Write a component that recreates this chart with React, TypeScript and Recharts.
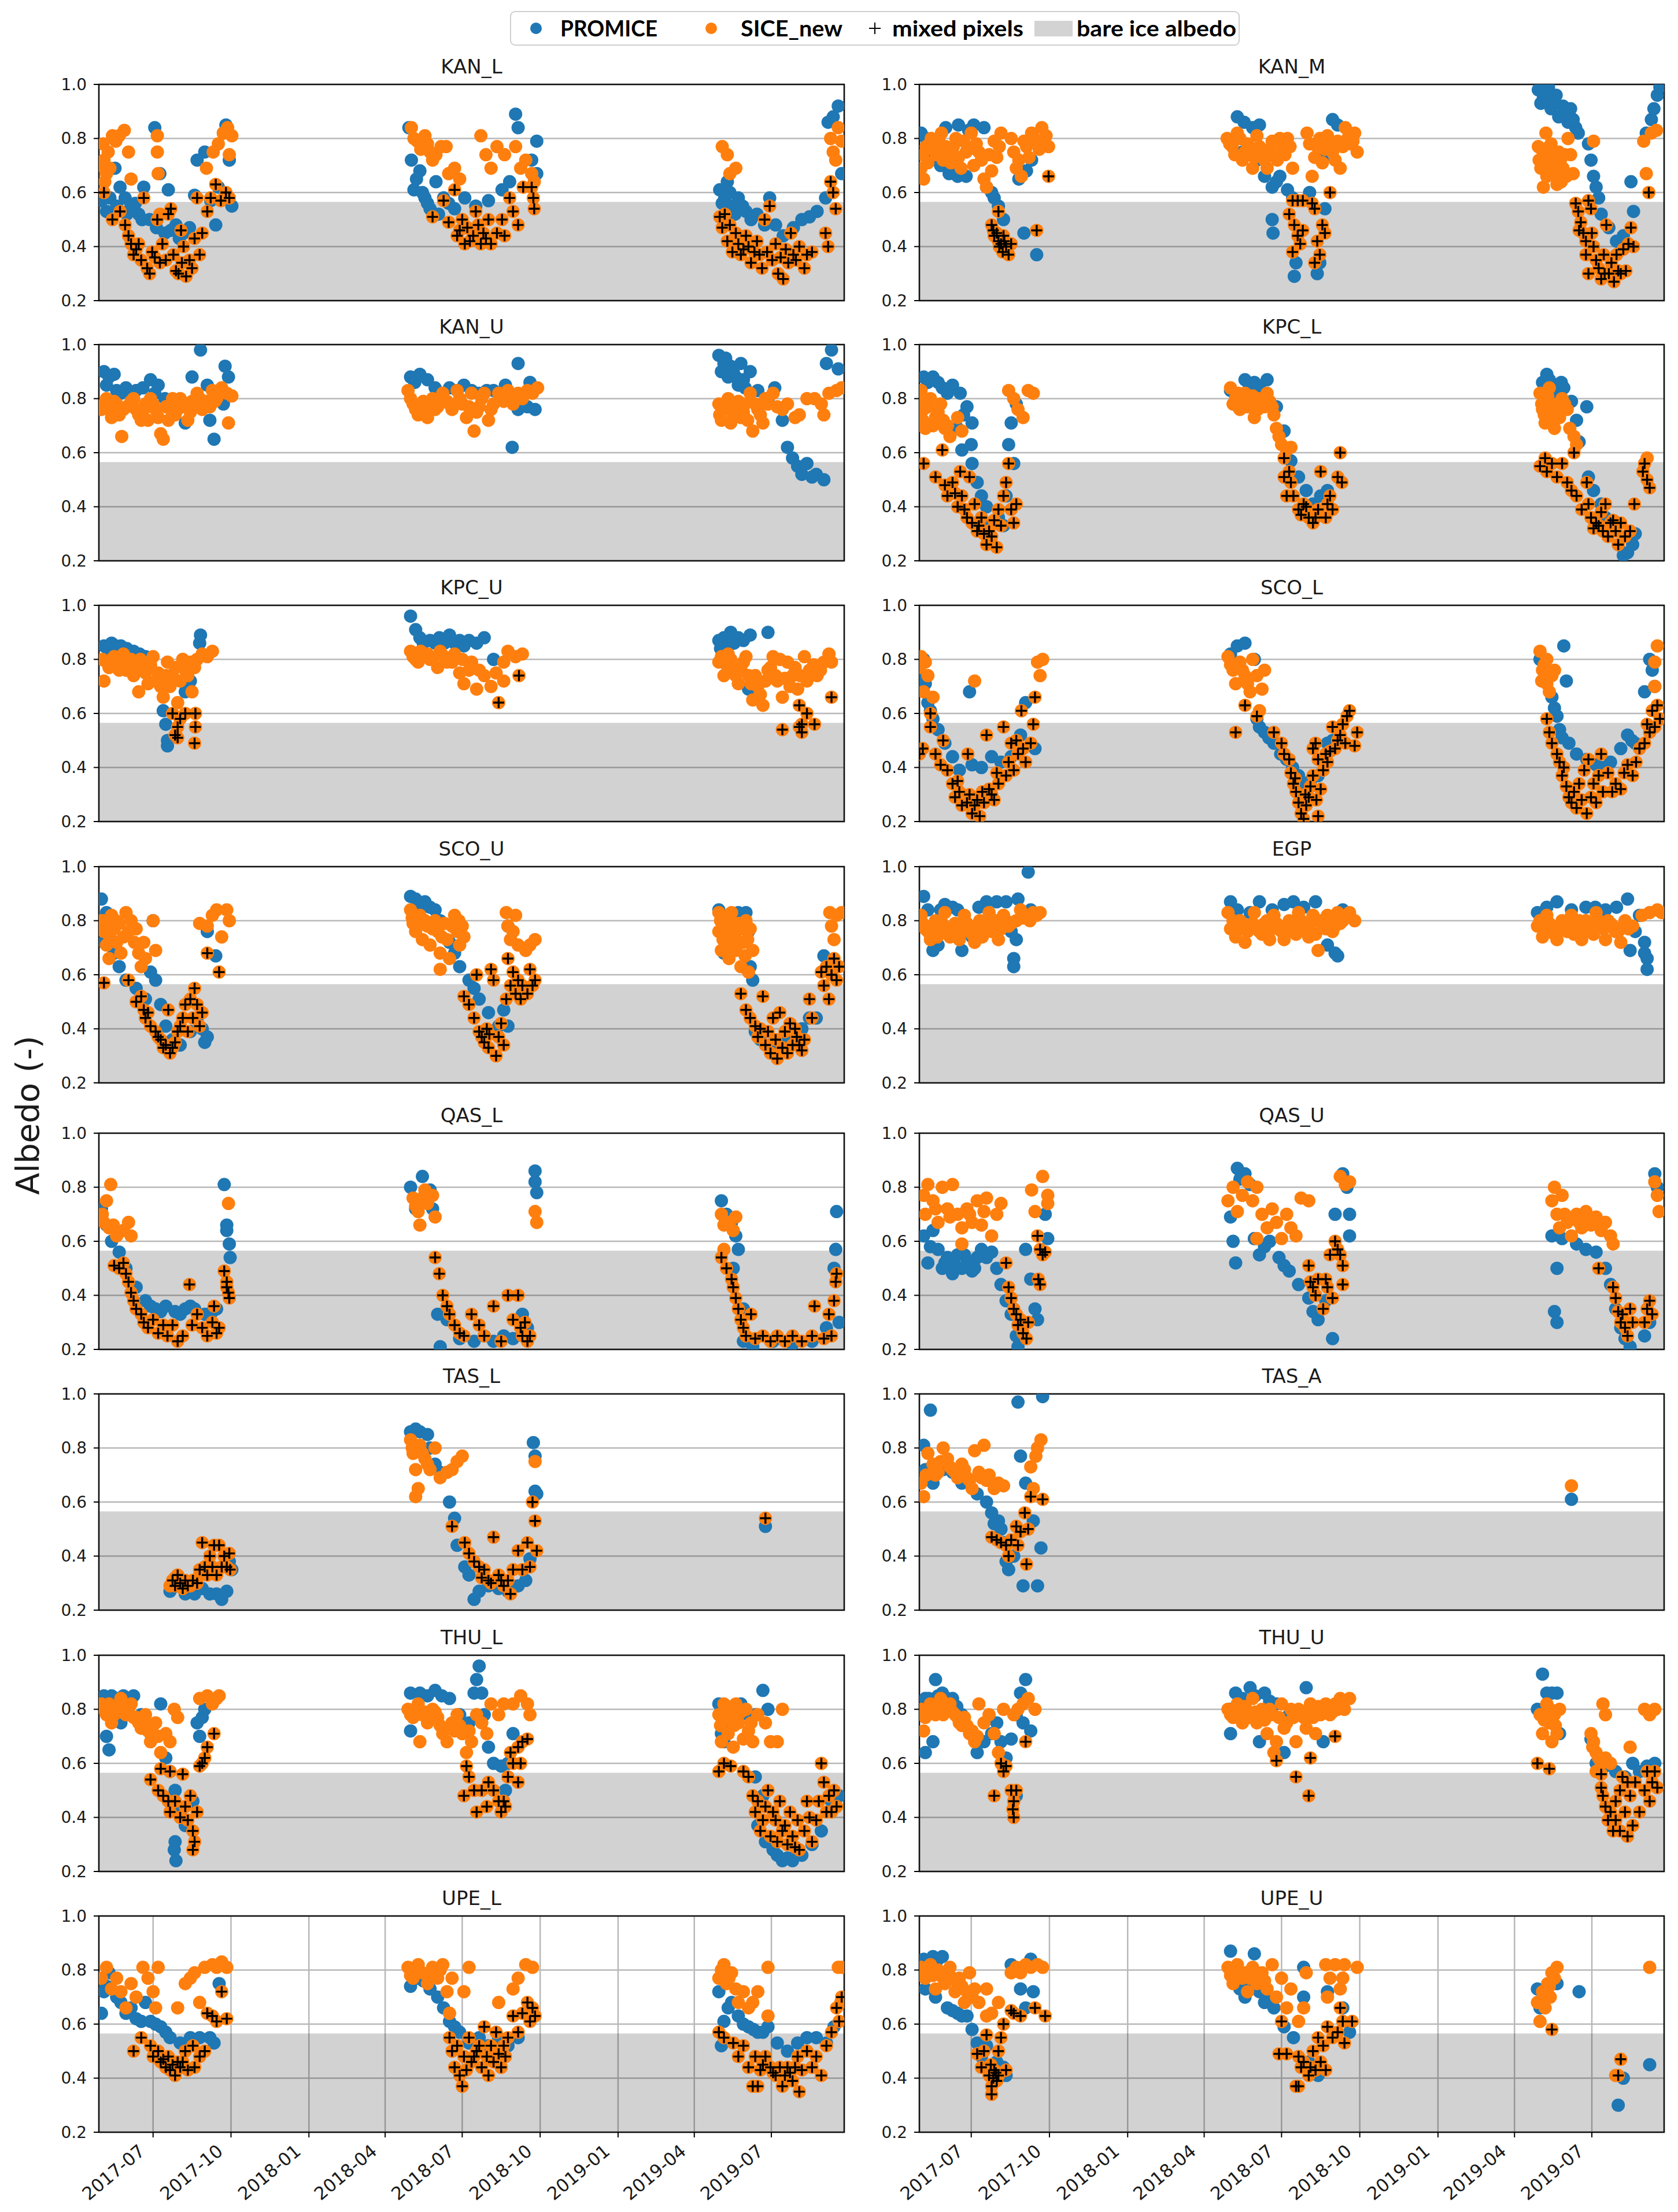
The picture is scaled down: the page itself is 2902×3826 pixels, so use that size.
import React from 'react';
import { ScatterChart, Scatter, XAxis, YAxis, CartesianGrid, ReferenceArea } from 'recharts';

type Pt = [number, number];

// x values: days since 2017-01-01
const TICK_DAYS = [181, 273, 365, 455, 546, 638, 730, 820, 911];
const TICK_LABELS = ['2017-07', '2017-10', '2018-01', '2018-04', '2018-07', '2018-10', '2019-01', '2019-04', '2019-07'];
const Y_TICKS = [0.2, 0.4, 0.6, 0.8, 1.0];
const BARE_ICE_ALBEDO = 0.565;
const LEGEND_LABELS = ['PROMICE', 'SICE_new', 'mixed pixels', 'bare ice albedo'];

const KAN_L_P: Pt[] = [[120,.57],[126,.53],[130,.58],[136,.69],[142,.62],[148,.58],[155,.55],[160,.56],[164,.52],[170,.62],[177,.50],[183,.84],[185,.47],[189,.67],[195,.45],[199,.61],[208,.48],[212,.43],[217,.45],[224,.47],[230,.59],[233,.72],[242,.75],[249,.57],[255,.48],[258,.62],[264,.82],[267,.85],[271,.72],[274,.55],[138,.55],[150,.52],[168,.50],[202,.46],
[483,.84],[486,.72],[489,.61],[496,.68],[502,.58],[508,.54],[515,.64],[524,.58],[537,.54],[549,.58],[562,.55],[577,.57],[593,.61],[602,.64],[609,.89],[612,.84],[628,.72],[634,.79],[634,.67],[492,.65],[499,.60],[505,.56],[518,.52],[530,.56],
[850,.61],[856,.58],[859,.64],[865,.55],[872,.58],[881,.53],[887,.50],[894,.52],[903,.48],[909,.58],[916,.48],[925,.44],[937,.47],[947,.50],[956,.51],[965,.53],[975,.58],[978,.86],[984,.88],[990,.92],[994,.67],[853,.56],[862,.60],[868,.52],[877,.55]];
const KAN_L_S: Pt[] = [[122,.78],[123,.72],[126,.67],[130,.69],[133,.81],[141,.81],[147,.83],[152,.75],[155,.65],[186,.81],[186,.75],[187,.67],[189,.52],[244,.69],[252,.75],[258,.78],[264,.82],[269,.84],[271,.74],[274,.81],[120,.70],[124,.64],[128,.75],[137,.79],
[486,.84],[493,.79],[502,.81],[508,.75],[515,.74],[521,.77],[527,.77],[530,.67],[537,.69],[543,.65],[568,.81],[574,.74],[580,.69],[587,.77],[596,.74],[609,.77],[615,.69],[621,.72],[628,.67],[631,.64],[489,.80],[497,.76],[505,.78],[511,.72],
[853,.77],[859,.74],[862,.67],[869,.69],[981,.80],[984,.75],[987,.72],[990,.84],[994,.79]];
const KAN_L_M: Pt[] = [[123,.60],[133,.50],[142,.53],[148,.48],[152,.44],[155,.41],[158,.37],[164,.41],[167,.35],[170,.58],[174,.32],[177,.30],[180,.38],[186,.50],[189,.34],[192,.41],[196,.35],[199,.52],[202,.54],[205,.37],[208,.31],[211,.30],[214,.46],[217,.40],[220,.29],[224,.35],[227,.32],[230,.43],[233,.58],[236,.37],[239,.45],[245,.53],[249,.58],[255,.63],[261,.57],[267,.60],[271,.58],[161,.39],[183,.36],[215,.34],
[511,.51],[524,.57],[537,.61],[530,.49],[540,.44],[546,.50],[549,.41],[552,.47],[559,.44],[562,.53],[568,.41],[571,.45],[577,.50],[580,.41],[587,.45],[593,.50],[596,.44],[602,.58],[606,.53],[612,.48],[618,.62],[628,.62],[630,.58],[631,.54],[543,.46],[555,.42],[565,.48],[574,.43],
[850,.51],[853,.47],[856,.52],[859,.42],[862,.48],[865,.38],[869,.45],[872,.41],[875,.37],[881,.44],[884,.40],[887,.34],[894,.42],[897,.37],[900,.32],[903,.50],[906,.38],[909,.55],[912,.35],[916,.41],[919,.30],[922,.36],[925,.28],[928,.39],[931,.34],[934,.45],[937,.37],[944,.40],[950,.32],[953,.37],[959,.38],[975,.45],[978,.40],[981,.64],[984,.60],[987,.54],[878,.39],[891,.38],[940,.35]];

const KAN_M_P: Pt[] = [[122,.82],[134,.73],[140,.72],[145,.70],[146,.75],[155,.67],[157,.69],[165,.66],[166,.85],[175,.66],[184,.85],[196,.84],[199,.62],[205,.60],[208,.58],[213,.55],[219,.50],[237,.65],[243,.45],[246,.68],[252,.72],[258,.37],[128,.80],[151,.84],[178,.83],
[494,.88],[500,.75],[502,.86],[512,.84],[520,.85],[526,.66],[535,.62],[535,.50],[536,.45],[544,.66],[553,.61],[559,.58],[561,.29],[563,.34],[579,.60],[588,.30],[591,.34],[594,.72],[597,.54],[606,.87],[612,.85],[508,.74],[517,.72],[540,.64],
[848,.98],[854,.95],[860,.99],[863,.91],[869,.96],[872,.88],[877,.92],[883,.86],[886,.91],[892,.84],[895,.82],[907,.78],[910,.72],[913,.66],[916,.62],[919,.58],[922,.52],[931,.47],[940,.42],[948,.44],[957,.64],[960,.53],[975,.82],[981,.87],[984,.91],[988,.96],[991,.99],[851,.93],[857,.97],[866,.93],[880,.89],[889,.87]];
const KAN_M_S: Pt[] = [[122,.69],[125,.65],[128,.77],[134,.80],[140,.74],[146,.82],[151,.77],[157,.71],[163,.80],[169,.69],[175,.75],[181,.82],[187,.78],[193,.72],[196,.65],[199,.62],[205,.68],[211,.73],[216,.82],[228,.80],[234,.69],[240,.66],[246,.77],[252,.82],[258,.79],[264,.84],[269,.81],[272,.77],
[124,.74],[130,.71],[132,.78],[137,.76],[143,.79],[148,.72],[154,.74],[160,.77],[166,.73],[172,.79],[178,.76],[184,.70],[190,.75],[202,.74],[208,.79],[214,.77],[231,.75],[237,.72],[243,.79],[249,.73],[255,.80],[261,.76],[267,.79],
[482,.80],[488,.77],[494,.82],[500,.72],[506,.78],[512,.69],[517,.81],[523,.75],[529,.69],[535,.79],[541,.72],[547,.77],[553,.80],[559,.69],[576,.82],[582,.66],[588,.77],[594,.71],[600,.81],[606,.75],[612,.79],[615,.69],[621,.84],[627,.78],[632,.82],[635,.75],
[485,.78],[491,.74],[497,.80],[503,.75],[509,.76],[514,.73],[520,.77],[526,.72],[532,.76],[538,.74],[544,.80],[550,.74],[556,.77],[579,.78],[585,.73],[591,.80],[597,.76],[603,.78],[609,.72],[618,.77],[624,.80],[630,.79],
[848,.77],[851,.69],[854,.62],[857,.82],[860,.72],[863,.78],[866,.67],[872,.75],[875,.64],[877,.69],[883,.80],[886,.74],[889,.67],[913,.79],[972,.79],[975,.67],[981,.82],[987,.83],
[849,.72],[852,.76],[855,.70],[858,.66],[861,.77],[864,.73],[868,.70],[870,.63],[874,.72],[879,.74],[881,.66]];
const KAN_M_M: Pt[] = [[205,.48],[208,.44],[211,.45],[213,.53],[213,.42],[216,.41],[218,.38],[219,.44],[222,.40],[225,.37],[228,.41],[258,.46],[272,.66],[207,.46],[214,.40],[220,.42],
[559,.57],[565,.57],[571,.57],[582,.56],[555,.52],[561,.48],[565,.44],[559,.38],[568,.41],[571,.46],[585,.54],[588,.42],[591,.37],[585,.34],[594,.48],[597,.45],[603,.60],
[892,.56],[895,.53],[898,.49],[901,.45],[904,.42],[907,.57],[910,.54],[904,.37],[907,.30],[913,.40],[916,.35],[919,.32],[922,.28],[925,.37],[928,.48],[931,.30],[934,.34],[937,.27],[940,.37],[942,.31],[948,.39],[951,.31],[954,.41],[957,.47],[960,.40],[978,.60],[896,.46],[911,.45],[926,.30],[945,.30]];

const KAN_U_P: Pt[] = [[123,.90],[129,.88],[135,.89],[138,.83],[149,.84],[161,.83],[169,.84],[178,.87],[187,.85],[195,.80],[207,.76],[219,.71],[227,.88],[237,.98],[245,.85],[248,.72],[253,.65],[262,.83],[264,.78],[266,.92],[270,.88],[126,.85],[143,.82],[155,.82],[183,.82],
[485,.88],[490,.86],[496,.89],[505,.87],[514,.84],[531,.84],[548,.85],[566,.82],[583,.83],[597,.85],[605,.62],[612,.93],[612,.76],[623,.77],[626,.86],[632,.76],[522,.82],[540,.83],[557,.83],[575,.83],
[849,.96],[855,.93],[857,.95],[860,.88],[866,.90],[872,.85],[875,.93],[880,.84],[886,.90],[895,.83],[907,.80],[915,.84],[924,.72],[930,.62],[936,.58],[942,.55],[947,.52],[953,.56],[959,.51],[964,.52],[973,.50],[976,.93],[982,.98],[990,.91],[852,.90],[863,.92],[869,.88],[878,.87]];
const KAN_U_S: Pt[] = [[120,.76],[126,.80],[132,.73],[138,.78],[144,.66],[146,.76],[155,.79],[161,.76],[167,.72],[172,.78],[178,.80],[184,.76],[190,.67],[193,.65],[199,.72],[204,.80],[210,.76],[216,.78],[222,.72],[227,.79],[233,.82],[239,.76],[245,.79],[251,.83],[256,.80],[262,.84],[268,.82],[270,.71],[274,.81],
[123,.78],[129,.76],[135,.79],[141,.74],[150,.77],[158,.80],[164,.74],[170,.76],[175,.72],[181,.78],[187,.73],[196,.77],[202,.76],[207,.74],[213,.80],[219,.77],[225,.75],[230,.79],[236,.80],[242,.78],[248,.77],[254,.79],[259,.82],
[482,.83],[488,.78],[494,.74],[500,.79],[505,.73],[511,.80],[517,.77],[523,.82],[528,.79],[534,.76],[540,.83],[546,.78],[551,.73],[557,.82],[560,.68],[566,.77],[572,.82],[577,.72],[583,.78],[589,.82],[595,.79],[600,.83],[606,.78],[612,.82],[617,.80],[623,.83],[629,.82],[635,.84],
[485,.80],[491,.76],[497,.78],[502,.75],[508,.78],[514,.76],[520,.79],[531,.78],[543,.80],[554,.77],[563,.75],[569,.80],[580,.76],[592,.80],[603,.81],
[849,.78],[852,.72],[855,.76],[860,.80],[863,.71],[869,.77],[875,.73],[880,.78],[886,.82],[889,.68],[895,.76],[901,.71],[907,.78],[913,.82],[918,.77],[924,.76],[930,.78],[939,.73],[944,.74],[953,.80],[962,.80],[970,.78],[973,.74],[979,.82],[988,.83],[994,.84],
[850,.74],[857,.78],[866,.74],[872,.79],[878,.75],[883,.72],[892,.78],[898,.74],[904,.80]];
const KAN_U_M: Pt[] = [];

const KPC_L_P: Pt[] = [[125,.88],[136,.88],[147,.84],[159,.85],[165,.69],[168,.82],[170,.61],[176,.77],[181,.63],[182,.71],[182,.56],[188,.49],[193,.44],[199,.40],[205,.34],[213,.36],[219,.33],[222,.44],[225,.63],[228,.71],[231,.56],[234,.78],[130,.86],[142,.86],[153,.82],[172,.74],
[486,.83],[495,.77],[503,.87],[514,.86],[529,.87],[540,.77],[549,.68],[557,.57],[566,.51],[575,.46],[583,.41],[592,.44],[600,.46],[508,.85],[520,.84],
[853,.86],[858,.89],[864,.85],[870,.82],[878,.84],[887,.79],[893,.72],[896,.64],[905,.77],[907,.51],[913,.46],[922,.41],[927,.36],[936,.31],[942,.26],[948,.22],[953,.23],[959,.26],[962,.30],[861,.87],[867,.83],[875,.86]];
const KPC_L_S: Pt[] = [[122,.83],[125,.76],[127,.69],[133,.80],[139,.73],[145,.78],[150,.69],[156,.66],[165,.73],[170,.68],[225,.83],[231,.80],[236,.76],[242,.73],[248,.83],[254,.82],[120,.79],[124,.72],[130,.77],[136,.70],[142,.75],[148,.72],[153,.70],
[486,.84],[492,.80],[497,.76],[503,.82],[509,.78],[514,.73],[520,.80],[526,.77],[532,.79],[537,.74],[540,.69],[543,.66],[546,.63],[552,.61],[557,.62],[489,.78],[495,.82],[500,.79],[506,.77],[512,.81],[518,.76],[523,.78],[529,.82],[535,.77],
[850,.82],[853,.76],[856,.71],[858,.79],[861,.84],[864,.76],[867,.69],[870,.78],[873,.73],[876,.80],[882,.76],[885,.69],[890,.66],[893,.63],[976,.58],[852,.78],[855,.74],[859,.81],[862,.77],[866,.73],[871,.75],[879,.78]];
const KPC_L_M: Pt[] = [[125,.56],[139,.51],[147,.61],[150,.48],[153,.44],[159,.49],[165,.40],[168,.53],[170,.44],[176,.36],[179,.51],[182,.34],[185,.41],[188,.31],[193,.36],[196,.30],[199,.26],[205,.29],[211,.25],[213,.39],[216,.33],[219,.44],[222,.49],[225,.56],[228,.39],[231,.34],[234,.41],[162,.45],[173,.39],[190,.33],[202,.31],[208,.35],
[549,.58],[549,.51],[552,.44],[555,.53],[557,.49],[560,.44],[566,.39],[572,.41],[578,.36],[583,.34],[589,.39],[592,.53],[598,.36],[600,.41],[603,.44],[606,.39],[612,.51],[615,.60],[617,.49],[569,.37],[575,.40],[586,.36],
[850,.55],[856,.58],[858,.53],[864,.56],[870,.51],[876,.56],[882,.49],[887,.46],[890,.60],[893,.44],[899,.39],[905,.49],[907,.41],[910,.36],[916,.34],[922,.38],[924,.31],[927,.41],[930,.29],[933,.34],[939,.31],[942,.26],[945,.34],[950,.29],[956,.31],[961,.41],[971,.53],[973,.56],[976,.50],[979,.47],[913,.32],[919,.33],[936,.35]];

const KPC_U_P: Pt[] = [[123,.85],[132,.86],[143,.85],[158,.83],[172,.81],[190,.74],[193,.61],[196,.56],[198,.48],[198,.50],[219,.68],[225,.72],[230,.79],[236,.86],[237,.89],[127,.84],[137,.85],[150,.84],[165,.82],
[485,.96],[491,.91],[496,.88],[508,.87],[519,.88],[531,.89],[543,.87],[554,.87],[572,.88],[583,.80],[500,.86],[514,.86],[525,.86],[537,.86],[548,.85],[563,.86],
[849,.87],[855,.88],[855,.80],[863,.90],[872,.88],[884,.69],[886,.89],[907,.90],[851,.84],[860,.85],[867,.86],[878,.87]];
const KPC_U_S: Pt[] = [[123,.72],[126,.79],[135,.81],[141,.76],[146,.82],[152,.79],[158,.74],[164,.68],[169,.77],[175,.71],[181,.81],[187,.75],[193,.66],[198,.79],[204,.74],[210,.64],[216,.80],[222,.74],[227,.68],[233,.80],[239,.82],[245,.81],[251,.83],
[121,.80],[129,.77],[132,.80],[138,.79],[144,.78],[149,.76],[155,.80],[161,.77],[166,.80],[172,.75],[178,.78],[184,.72],[190,.70],[196,.74],[201,.70],[207,.77],[213,.72],[219,.76],[225,.79],[230,.77],
[485,.83],[494,.79],[502,.82],[508,.80],[517,.77],[525,.81],[534,.79],[543,.75],[548,.71],[554,.76],[563,.69],[572,.74],[580,.70],[586,.75],[595,.79],[595,.72],[600,.83],[609,.81],[617,.82],
[488,.81],[491,.80],[497,.83],[505,.82],[511,.80],[520,.83],[528,.79],[537,.82],[546,.80],[557,.79],[566,.76],
[849,.79],[855,.74],[860,.82],[866,.76],[872,.71],[878,.79],[884,.74],[889,.65],[895,.70],[901,.63],[907,.76],[913,.81],[918,.72],[924,.66],[930,.79],[936,.74],[942,.69],[950,.81],[956,.76],[965,.74],[973,.79],[979,.82],[982,.79],
[852,.81],[858,.78],[863,.80],[869,.74],[875,.77],[881,.81],[887,.71],[892,.74],[898,.67],[904,.72],[910,.77],[916,.74],[921,.80],[927,.73],[933,.70],[939,.77],[945,.74],[953,.72],[961,.78],[969,.76]];
const KPC_U_M: Pt[] = [[204,.60],[207,.52],[210,.55],[210,.51],[213,.58],[219,.60],[231,.60],[231,.55],[230,.49],
[589,.64],[613,.74],
[924,.54],[944,.63],[944,.55],[947,.53],[947,.56],[953,.60],[962,.56],[982,.66]];

const SCO_L_P: Pt[] = [[125,.80],[127,.71],[130,.64],[136,.58],[142,.54],[150,.49],[159,.44],[167,.39],[179,.68],[182,.41],[205,.44],[216,.42],[228,.44],[239,.52],[245,.64],[256,.47],[122,.74],[133,.61],[193,.40],
[486,.82],[494,.85],[503,.86],[514,.80],[520,.55],[526,.53],[537,.49],[552,.43],[566,.37],[572,.33],[589,.37],[600,.49],[606,.50],[517,.58],[531,.51],[545,.45],[559,.40],[580,.35],
[850,.80],[856,.74],[864,.66],[870,.59],[873,.54],[878,.85],[881,.72],[884,.49],[893,.45],[905,.43],[916,.41],[933,.42],[945,.47],[953,.52],[962,.49],[973,.68],[979,.80],[982,.76],[985,.70],[867,.62],[876,.51],[925,.40],[958,.50]];
const SCO_L_S: Pt[] = [[122,.81],[127,.79],[130,.74],[125,.68],[136,.66],[185,.72],[259,.79],[265,.80],[262,.74],[120,.77],
[483,.81],[489,.76],[492,.71],[497,.79],[503,.74],[509,.68],[512,.80],[517,.74],[523,.69],[526,.76],[520,.61],[486,.78],[500,.76],[506,.71],
[850,.83],[853,.76],[858,.80],[858,.71],[861,.68],[864,.74],[867,.76],[985,.79],[988,.85],[985,.70],[855,.78],[852,.72]];
const SCO_L_M: Pt[] = [[120,.45],[124,.47],[133,.60],[133,.55],[139,.45],[145,.41],[148,.50],[153,.39],[159,.34],[162,.29],[167,.31],[170,.26],[176,.27],[177,.45],[182,.23],[188,.28],[191,.22],[196,.27],[199,.52],[202,.32],[208,.28],[213,.34],[219,.55],[222,.37],[228,.49],[231,.39],[234,.50],[236,.45],[240,.61],[245,.42],[251,.49],[254,.56],[256,.66],[165,.35],[179,.30],[185,.26],[194,.31],[205,.30],[211,.38],[225,.42],[242,.47],
[492,.53],[503,.63],[517,.59],[537,.53],[546,.49],[549,.45],[555,.43],[557,.38],[560,.34],[563,.31],[566,.27],[569,.23],[572,.21],[575,.26],[578,.29],[580,.33],[583,.37],[583,.47],[586,.49],[589,.43],[589,.22],[592,.32],[595,.39],[598,.45],[600,.42],[606,.55],[609,.47],[615,.52],[618,.56],[621,.49],[623,.59],[626,.61],[632,.48],[635,.53],[562,.36],[574,.30],[587,.28],[603,.46],[612,.50],
[858,.58],[861,.53],[864,.49],[870,.45],[873,.42],[876,.37],[881,.33],[884,.29],[887,.27],[890,.31],[893,.25],[896,.34],[899,.28],[902,.39],[905,.23],[907,.43],[910,.29],[913,.34],[916,.27],[919,.37],[922,.45],[924,.31],[930,.38],[939,.34],[945,.32],[953,.41],[959,.37],[967,.47],[973,.49],[976,.56],[979,.53],[982,.61],[985,.55],[988,.63],[991,.58],[878,.40],[935,.31],[949,.38],[963,.42]];

const SCO_U_P: Pt[] = [[120,.88],[123,.72],[126,.83],[129,.76],[135,.68],[141,.63],[149,.58],[161,.55],[172,.51],[178,.61],[181,.80],[184,.58],[190,.49],[196,.41],[204,.36],[213,.34],[225,.39],[233,.44],[239,.40],[242,.35],[245,.37],[245,.76],[255,.67],
[485,.89],[491,.88],[502,.87],[508,.85],[514,.84],[531,.72],[543,.63],[554,.58],[566,.51],[577,.46],[589,.41],[595,.47],[600,.41],[600,.78],[496,.86],[520,.80],[537,.68],[560,.55],
[849,.84],[852,.76],[855,.68],[866,.82],[881,.83],[884,.76],[886,.63],[889,.58],[892,.39],[898,.36],[910,.34],[930,.36],[947,.40],[956,.44],[964,.44],[973,.67],[982,.63],[860,.81],[872,.83]];
const SCO_U_S: Pt[] = [[120,.80],[123,.76],[126,.71],[129,.66],[132,.82],[135,.77],[138,.72],[141,.79],[143,.68],[149,.83],[152,.76],[155,.80],[159,.72],[161,.77],[164,.68],[167,.63],[170,.72],[172,.66],[181,.80],[184,.69],[236,.79],[245,.78],[251,.82],[256,.84],[262,.74],[268,.84],[271,.80],[124,.80],[130,.74],[137,.80],[146,.74],
[485,.84],[488,.79],[491,.76],[496,.82],[499,.73],[505,.78],[508,.71],[514,.80],[517,.76],[520,.68],[520,.62],[525,.79],[528,.73],[531,.66],[537,.82],[540,.76],[543,.71],[546,.78],[598,.83],[600,.78],[603,.73],[606,.76],[609,.82],[612,.71],[621,.69],[626,.71],[632,.73],
[487,.81],[493,.78],[502,.80],[511,.77],[522,.74],[534,.78],[542,.80],[548,.74],
[849,.83],[849,.76],[852,.69],[855,.80],[858,.73],[861,.66],[864,.83],[866,.76],[869,.69],[872,.79],[875,.63],[878,.72],[881,.80],[884,.61],[886,.77],[889,.69],[980,.83],[982,.78],[985,.73],[988,.82],[994,.83],
[851,.80],[854,.73],[857,.77],[860,.70],[863,.79],[868,.74],[871,.71],[877,.77],[880,.67],[883,.73]];
const SCO_U_M: Pt[] = [[123,.57],[152,.58],[161,.50],[167,.52],[170,.47],[172,.44],[175,.46],[178,.41],[184,.39],[190,.36],[196,.34],[199,.47],[201,.31],[207,.35],[210,.39],[216,.44],[219,.49],[222,.39],[225,.51],[228,.44],[230,.55],[233,.49],[236,.41],[239,.46],[245,.68],[259,.61],[187,.37],[193,.33],[204,.33],[213,.41],
[548,.52],[554,.49],[560,.44],[563,.60],[566,.39],[572,.35],[575,.40],[577,.33],[580,.62],[583,.58],[586,.30],[589,.37],[592,.42],[595,.34],[598,.51],[600,.66],[603,.56],[606,.61],[609,.53],[612,.58],[615,.51],[617,.56],[623,.53],[626,.62],[629,.56],[632,.58],[569,.37],[578,.38],
[875,.53],[881,.47],[886,.44],[892,.41],[895,.37],[901,.52],[904,.34],[907,.39],[910,.31],[913,.44],[916,.36],[918,.29],[921,.46],[924,.33],[927,.39],[930,.31],[933,.42],[936,.34],[939,.40],[944,.34],[950,.36],[956,.51],[959,.44],[970,.61],[973,.56],[976,.63],[979,.51],[982,.60],[985,.66],[988,.58],[991,.63],[898,.40],[941,.37],[947,.32]];

const EGP_P: Pt[] = [[125,.89],[130,.84],[136,.69],[142,.71],[150,.86],[159,.85],[170,.69],[182,.74],[199,.87],[211,.87],[222,.87],[228,.76],[231,.66],[231,.63],[234,.73],[236,.88],[248,.98],[251,.84],[145,.84],[165,.84],[190,.85],
[486,.87],[494,.84],[509,.83],[520,.87],[535,.84],[549,.86],[560,.87],[572,.85],[586,.87],[600,.71],[603,.77],[609,.68],[612,.67],[618,.84],
[847,.83],[858,.85],[870,.87],[887,.84],[904,.85],[927,.84],[953,.88],[956,.69],[962,.76],[967,.82],[973,.72],[973,.68],[976,.66],[976,.62],[915,.85],[940,.85]];
const EGP_S: Pt[] = [[122,.82],[127,.77],[133,.73],[139,.80],[144,.76],[150,.83],[156,.74],[162,.79],[167,.73],[173,.82],[179,.77],[185,.72],[191,.80],[196,.76],[202,.83],[208,.78],[213,.73],[219,.82],[225,.78],[234,.80],[239,.84],[245,.82],[254,.83],[262,.83],
[124,.79],[130,.76],[136,.78],[141,.74],[147,.79],[153,.77],[159,.75],[164,.78],[170,.76],[176,.79],[182,.75],[188,.78],[194,.74],[199,.79],[205,.76],[211,.80],[216,.77],[222,.80],[228,.79],[242,.81],[250,.80],[258,.82],
[483,.83],[486,.77],[492,.74],[497,.80],[503,.72],[509,.78],[514,.83],[520,.76],[526,.79],[532,.73],[537,.82],[543,.77],[549,.73],[555,.80],[560,.76],[566,.83],[572,.78],[578,.74],[583,.82],[589,.69],[595,.78],[600,.82],[606,.76],[612,.83],[618,.80],[626,.83],[632,.80],
[489,.80],[495,.77],[500,.79],[506,.76],[512,.79],[518,.78],[523,.75],[529,.80],[535,.77],[540,.79],[546,.76],[552,.78],[558,.79],[563,.75],[569,.80],[575,.77],[581,.79],[586,.75],[592,.80],[598,.77],[603,.80],[609,.78],[615,.79],[621,.81],
[847,.78],[853,.74],[858,.82],[864,.77],[870,.73],[876,.80],[882,.76],[887,.82],[893,.77],[899,.73],[904,.80],[910,.76],[916,.83],[922,.78],[927,.73],[933,.79],[939,.76],[945,.72],[950,.80],[959,.78],[970,.82],[979,.83],[988,.84],[993,.83],
[850,.80],[856,.77],[861,.79],[867,.75],[873,.78],[879,.77],[884,.79],[890,.75],[896,.80],[902,.77],[907,.79],[913,.75],[919,.80],[925,.77],[930,.80],[936,.78],[942,.76],[948,.78],[954,.77]];
const EGP_M: Pt[] = [];

const QAS_L_P: Pt[] = [[120,.72],[126,.66],[132,.60],[141,.56],[149,.50],[161,.43],[172,.38],[184,.35],[196,.36],[207,.34],[219,.35],[230,.35],[242,.33],[251,.34],[256,.35],[265,.81],[268,.64],[268,.66],[271,.59],[272,.54],[178,.36],[190,.34],[213,.33],[225,.36],
[485,.80],[491,.72],[499,.84],[508,.79],[511,.72],[517,.33],[520,.21],[528,.31],[543,.24],[560,.23],[572,.25],[583,.23],[595,.25],[606,.24],[617,.33],[623,.28],[632,.86],[632,.82],[634,.78],
[852,.75],[858,.70],[864,.67],[866,.50],[869,.62],[872,.57],[878,.35],[878,.23],[889,.21],[913,.23],[936,.22],[959,.23],[976,.28],[985,.50],[987,.57],[988,.71],[991,.30]];
const QAS_L_S: Pt[] = [[123,.67],[126,.75],[129,.65],[131,.81],[138,.62],[146,.64],[152,.67],[155,.62],[270,.74],[121,.70],[134,.66],
[488,.76],[494,.71],[496,.66],[502,.79],[505,.74],[511,.77],[514,.69],[632,.71],[634,.67],[491,.73],[499,.76],
[852,.70],[855,.66],[855,.57],[861,.67],[866,.64],[869,.69]];
const QAS_L_M: Pt[] = [[135,.51],[141,.50],[146,.52],[149,.48],[152,.45],[155,.41],[158,.38],[161,.35],[167,.33],[170,.30],[175,.28],[181,.31],[187,.26],[193,.29],[198,.25],[204,.29],[210,.23],[216,.25],[224,.44],[227,.29],[233,.33],[239,.28],[245,.25],[251,.30],[253,.36],[256,.26],[259,.28],[265,.49],[268,.45],[268,.43],[270,.41],[271,.39],
[514,.54],[519,.48],[523,.40],[528,.36],[531,.33],[537,.29],[543,.26],[548,.25],[557,.33],[566,.29],[572,.25],[583,.36],[592,.23],[600,.40],[606,.31],[612,.40],[615,.28],[617,.25],[620,.30],[623,.23],[626,.25],
[852,.54],[858,.50],[864,.46],[866,.43],[869,.39],[872,.35],[875,.31],[878,.28],[881,.25],[887,.33],[892,.24],[901,.25],[910,.23],[918,.25],[927,.23],[936,.25],[947,.23],[959,.25],[962,.36],[973,.24],[979,.33],[982,.25],[985,.38],[987,.45],[988,.48]];

const QAS_U_P: Pt[] = [[125,.62],[130,.52],[136,.64],[142,.57],[147,.50],[153,.54],[159,.48],[165,.55],[170,.50],[176,.52],[182,.49],[188,.54],[193,.57],[199,.54],[205,.56],[211,.50],[216,.44],[222,.38],[228,.33],[234,.25],[236,.21],[245,.57],[251,.46],[256,.35],[259,.31],[268,.70],[271,.61],[133,.58],[150,.52],[162,.51],[173,.55],[185,.50],
[486,.69],[492,.52],[494,.87],[503,.85],[509,.81],[514,.61],[520,.55],[532,.60],[543,.54],[555,.49],[566,.44],[578,.39],[583,.34],[589,.31],[598,.38],[606,.24],[609,.70],[618,.85],[623,.80],[626,.62],[626,.70],[489,.60],[497,.83],[526,.58],[549,.51],
[864,.62],[867,.34],[870,.50],[870,.30],[876,.61],[893,.59],[904,.57],[916,.56],[927,.50],[933,.44],[939,.35],[945,.28],[950,.24],[956,.21],[973,.25],[979,.30],[985,.85],[988,.80]];
const QAS_U_S: Pt[] = [[125,.77],[127,.70],[130,.81],[136,.75],[142,.67],[147,.80],[153,.72],[159,.81],[165,.70],[170,.65],[170,.59],[176,.72],[182,.67],[188,.75],[193,.66],[199,.76],[205,.62],[211,.70],[216,.74],[252,.79],[256,.71],[265,.84],[271,.77],[271,.74],[139,.72],[156,.69],[179,.70],[196,.71],
[483,.75],[489,.80],[494,.71],[500,.77],[506,.82],[512,.75],[517,.80],[517,.61],[523,.70],[529,.65],[535,.72],[540,.67],[546,.61],[552,.70],[557,.65],[563,.62],[569,.76],[578,.75],[615,.84],[621,.81],[626,.82],
[864,.75],[867,.80],[870,.70],[873,.65],[876,.77],[882,.67],[887,.62],[893,.70],[899,.65],[904,.71],[910,.66],[916,.69],[922,.64],[927,.67],[933,.62],[936,.59],[985,.82],[988,.77],[990,.71],[879,.70],[896,.67],[907,.68],[919,.67]];
const QAS_U_M: Pt[] = [[222,.52],[225,.43],[228,.39],[231,.35],[234,.33],[236,.29],[239,.31],[242,.26],[246,.24],[248,.30],[259,.62],[260,.46],[262,.57],[262,.44],[265,.55],[268,.56],
[578,.51],[580,.45],[583,.43],[586,.40],[589,.46],[595,.35],[598,.46],[600,.43],[603,.55],[606,.39],[609,.60],[612,.57],[615,.55],[618,.51],[618,.44],
[919,.50],[936,.43],[939,.39],[942,.34],[945,.30],[947,.33],[950,.28],[953,.25],[956,.35],[959,.30],[973,.30],[976,.35],[979,.38],[982,.33]];

const TAS_L_P: Pt[] = [[201,.27],[210,.29],[219,.26],[230,.26],[239,.28],[248,.26],[256,.26],[262,.24],[268,.27],[271,.38],[274,.35],
[485,.86],[491,.87],[496,.86],[505,.85],[508,.80],[514,.74],[520,.71],[531,.60],[537,.54],[540,.44],[549,.36],[554,.33],[560,.24],[566,.27],[577,.29],[589,.28],[600,.27],[612,.29],[621,.31],[626,.39],[630,.82],[632,.77],[632,.64],[634,.63],
[904,.51]];
const TAS_L_S: Pt[] = [[201,.29],[207,.32],[216,.31],[225,.29],[236,.33],[242,.35],
[485,.83],[488,.78],[491,.72],[494,.65],[496,.81],[502,.76],[508,.72],[514,.80],[520,.69],[528,.71],[534,.72],[540,.75],[546,.77],[491,.62],[632,.75],[487,.80],[499,.78],[505,.74]];
const TAS_L_M: Pt[] = [[204,.31],[207,.29],[210,.33],[213,.30],[216,.28],[219,.31],[222,.29],[228,.31],[233,.30],[236,.35],[239,.45],[242,.36],[245,.33],[248,.40],[251,.36],[253,.44],[256,.33],[259,.44],[262,.36],[265,.40],[268,.36],[271,.41],[272,.35],
[534,.51],[549,.45],[554,.41],[560,.38],[566,.36],[572,.35],[577,.31],[583,.47],[589,.33],[595,.29],[600,.31],[603,.26],[606,.35],[612,.42],[617,.35],[623,.45],[626,.36],[629,.60],[632,.53],[634,.42],[569,.32],[580,.30],[592,.31],
[904,.54]];

const TAS_A_P: Pt[] = [[125,.81],[127,.72],[133,.94],[136,.67],[148,.72],[159,.71],[170,.67],[188,.63],[199,.60],[205,.56],[213,.53],[219,.45],[222,.38],[225,.35],[231,.40],[236,.97],[239,.77],[242,.29],[245,.67],[254,.53],[259,.29],[263,.43],[265,.99],[208,.52],[216,.50],
[887,.61]];
const TAS_A_S: Pt[] = [[122,.67],[125,.62],[130,.78],[136,.74],[142,.71],[148,.80],[153,.76],[159,.72],[165,.69],[170,.74],[176,.69],[182,.65],[185,.79],[190,.71],[196,.81],[202,.70],[208,.65],[213,.67],[219,.66],[251,.73],[254,.65],[257,.77],[259,.80],[263,.83],[128,.70],[139,.70],[145,.75],[156,.73],[162,.71],[168,.70],[173,.72],[179,.68],[193,.69],[199,.68],
[887,.66]];
const TAS_A_M: Pt[] = [[205,.47],[211,.46],[216,.45],[222,.44],[225,.40],[228,.46],[234,.51],[236,.44],[239,.49],[244,.56],[246,.37],[248,.50],[251,.62],[265,.61]];

const THU_L_P: Pt[] = [[123,.85],[126,.70],[129,.65],[132,.85],[143,.75],[146,.85],[158,.85],[167,.78],[178,.71],[190,.82],[196,.62],[201,.57],[206,.28],[207,.50],[207,.31],[208,.24],[213,.42],[219,.37],[228,.46],[233,.75],[236,.70],[239,.77],[242,.80],[137,.84],[152,.84],
[485,.86],[485,.72],[496,.86],[514,.87],[531,.84],[543,.78],[554,.75],[560,.86],[563,.91],[566,.96],[569,.86],[572,.78],[577,.66],[583,.60],[592,.59],[597,.50],[600,.60],[606,.71],[505,.85],[522,.85],
[849,.82],[852,.71],[855,.68],[860,.75],[866,.78],[875,.82],[884,.78],[892,.78],[892,.55],[895,.37],[901,.87],[901,.48],[904,.31],[907,.80],[913,.28],[924,.24],[936,.24],[947,.26],[959,.30],[970,.35],[982,.46],[991,.48],[918,.26],[930,.25],[941,.27]];
const THU_L_S: Pt[] = [[120,.82],[126,.78],[132,.75],[138,.80],[143,.84],[149,.78],[155,.82],[161,.77],[167,.73],[172,.78],[178,.68],[184,.75],[190,.64],[196,.71],[201,.68],[206,.80],[210,.77],[236,.84],[245,.85],[251,.82],[256,.84],[259,.85],[123,.80],[129,.82],[135,.78],[141,.79],[146,.81],[152,.80],[158,.77],[164,.75],[169,.76],[175,.72],[181,.74],[187,.70],
[482,.80],[488,.77],[494,.82],[496,.68],[499,.78],[505,.75],[511,.80],[517,.77],[523,.71],[528,.68],[534,.75],[540,.78],[546,.71],[551,.64],[557,.68],[563,.78],[569,.75],[575,.71],[580,.82],[589,.78],[595,.82],[606,.82],[615,.85],[623,.82],[626,.78],[485,.78],[491,.80],[502,.79],[508,.77],[514,.79],[520,.74],[531,.73],[537,.72],[543,.74],[554,.72],
[849,.78],[852,.68],[855,.82],[860,.71],[863,.78],[866,.66],[869,.82],[872,.75],[878,.69],[881,.80],[887,.75],[889,.68],[895,.78],[904,.75],[910,.68],[918,.68],[924,.80],[851,.74],[857,.76],[861,.80],[867,.74],[875,.79],[884,.72]];
const THU_L_M: Pt[] = [[178,.54],[187,.50],[190,.58],[193,.48],[199,.46],[201,.57],[201,.42],[207,.46],[213,.40],[216,.56],[219,.44],[222,.39],[225,.48],[228,.35],[228,.28],[230,.31],[233,.42],[236,.59],[239,.60],[242,.62],[245,.66],[253,.71],
[548,.48],[551,.59],[554,.55],[560,.50],[563,.42],[569,.50],[575,.44],[577,.53],[583,.50],[589,.46],[592,.42],[595,.46],[597,.44],[600,.55],[603,.64],[606,.60],[612,.66],[612,.53],[615,.60],[617,.68],[623,.69],
[849,.57],[855,.60],[863,.59],[878,.57],[884,.55],[889,.48],[892,.42],[895,.46],[898,.35],[901,.39],[907,.50],[910,.33],[913,.42],[916,.39],[918,.31],[921,.46],[924,.35],[930,.30],[933,.42],[936,.33],[942,.39],[944,.28],[950,.35],[953,.46],[959,.31],[964,.39],[967,.46],[970,.60],[973,.53],[976,.42],[979,.48],[982,.42],[985,.50],[988,.44],[904,.44],[927,.37],[939,.29],[956,.40]];

const THU_U_P: Pt[] = [[127,.84],[127,.64],[136,.68],[139,.91],[147,.86],[159,.84],[170,.78],[182,.71],[188,.64],[196,.68],[205,.71],[211,.75],[216,.68],[222,.62],[228,.69],[234,.78],[234,.48],[239,.86],[242,.75],[245,.91],[251,.72],[131,.84],[142,.85],[153,.84],[164,.81],
[486,.80],[486,.71],[492,.86],[509,.88],[520,.68],[526,.86],[540,.82],[549,.64],[555,.78],[575,.88],[589,.78],[595,.68],[500,.84],[515,.85],[532,.83],
[847,.80],[853,.93],[858,.86],[864,.86],[870,.86],[873,.71],[910,.69],[916,.60],[927,.59],[939,.57],[950,.55],[959,.60],[967,.57],[976,.59],[985,.60]];
const THU_U_S: Pt[] = [[122,.80],[125,.72],[127,.77],[133,.82],[139,.78],[145,.84],[150,.80],[156,.82],[162,.78],[167,.75],[173,.77],[179,.71],[185,.68],[190,.82],[196,.75],[202,.78],[208,.71],[213,.64],[219,.80],[231,.78],[236,.80],[242,.82],[248,.84],[256,.80],[130,.80],[136,.80],[142,.81],[148,.78],[153,.80],[159,.79],[165,.77],[170,.74],[176,.74],[182,.72],[188,.70],
[483,.80],[489,.77],[494,.82],[500,.75],[506,.78],[512,.84],[517,.75],[523,.80],[529,.71],[535,.78],[537,.64],[540,.68],[546,.82],[552,.75],[557,.80],[563,.68],[569,.78],[575,.73],[580,.82],[586,.71],[592,.78],[598,.82],[603,.78],[609,.82],[615,.84],[620,.80],[626,.84],
[486,.78],[492,.80],[497,.79],[503,.81],[509,.77],[515,.79],[520,.78],[526,.76],[532,.80],[543,.77],[549,.73],[560,.77],[566,.80],[572,.77],[578,.79],[583,.77],[589,.81],[595,.79],[601,.80],[606,.79],[612,.80],[618,.82],
[850,.78],[853,.71],[858,.82],[861,.75],[864,.68],[867,.78],[870,.71],[873,.80],[910,.71],[913,.68],[916,.64],[916,.57],[922,.60],[924,.82],[927,.62],[927,.78],[933,.60],[956,.66],[973,.80],[979,.78],[985,.80],[855,.76],[862,.80],[868,.74],[912,.66],[919,.62]];
const THU_U_M: Pt[] = [[208,.48],[216,.60],[219,.57],[222,.59],[228,.50],[230,.43],[231,.46],[231,.40],[234,.50],[245,.68],
[540,.61],[563,.55],[578,.48],[580,.62],[609,.70],
[847,.60],[861,.58],[922,.56],[922,.51],[924,.48],[927,.44],[930,.39],[933,.42],[936,.35],[939,.46],[939,.39],[944,.50],[944,.35],[947,.55],[950,.42],[953,.33],[953,.53],[956,.48],[959,.37],[962,.53],[967,.42],[973,.50],[976,.57],[979,.46],[982,.53],[985,.57],[988,.51]];

const UPE_L_P: Pt[] = [[120,.64],[123,.72],[129,.79],[138,.70],[149,.64],[155,.66],[167,.61],[172,.68],[178,.61],[190,.59],[201,.55],[213,.53],[225,.55],[236,.55],[248,.55],[253,.53],[259,.75],[126,.74],[143,.68],[161,.62],[184,.60],[196,.57],
[485,.74],[494,.77],[508,.73],[517,.70],[531,.61],[543,.57],[554,.53],[566,.55],[577,.52],[589,.55],[600,.52],[612,.55],[500,.76],[524,.66],[537,.59],
[849,.72],[852,.52],[855,.61],[864,.68],[872,.63],[884,.59],[895,.57],[907,.59],[918,.53],[930,.50],[942,.53],[953,.55],[964,.55],[976,.53],[985,.59],[860,.66],[878,.60],[890,.58],[901,.57]];
const UPE_L_S: Pt[] = [[120,.77],[126,.81],[132,.73],[138,.77],[143,.72],[149,.66],[155,.75],[161,.70],[169,.81],[175,.77],[181,.72],[184,.66],[187,.81],[210,.66],[219,.75],[225,.77],[230,.79],[236,.68],[242,.81],[251,.82],[256,.81],[262,.83],[268,.81],
[482,.81],[488,.77],[494,.82],[499,.79],[505,.75],[511,.81],[517,.77],[523,.82],[528,.72],[531,.64],[534,.77],[548,.72],[554,.81],[589,.68],[606,.73],[612,.77],[621,.82],[629,.81],[485,.78],[491,.80],[508,.79],[520,.80],
[849,.77],[855,.82],[858,.75],[864,.79],[869,.73],[872,.68],[878,.72],[884,.66],[889,.68],[895,.72],[907,.81],[907,.63],[990,.81],[993,.68],[994,.81],[852,.80],[861,.77]];
const UPE_L_M: Pt[] = [[158,.50],[167,.55],[178,.52],[181,.48],[187,.50],[190,.46],[196,.44],[199,.48],[201,.43],[207,.41],[210,.46],[213,.44],[219,.50],[222,.43],[228,.52],[230,.44],[236,.48],[242,.50],[245,.64],[251,.63],[256,.61],[262,.72],[268,.62],[193,.47],[204,.45],[216,.46],
[531,.55],[534,.50],[537,.44],[540,.52],[543,.41],[546,.37],[548,.48],[551,.43],[554,.55],[560,.48],[566,.52],[569,.44],[572,.59],[575,.48],[577,.41],[580,.52],[583,.46],[586,.57],[592,.44],[595,.52],[600,.55],[606,.63],[612,.57],[617,.64],[623,.68],[626,.61],[629,.66],[632,.63],[557,.46],[563,.50],[589,.49],[597,.48],
[849,.57],[855,.55],[866,.53],[872,.48],[878,.52],[884,.44],[889,.37],[892,.48],[895,.37],[898,.43],[904,.48],[910,.44],[916,.41],[921,.44],[924,.37],[927,.41],[930,.44],[936,.39],[942,.48],[944,.35],[947,.43],[953,.50],[959,.44],[964,.48],[970,.41],[976,.52],[982,.57],[988,.66],[991,.61],[994,.70],[901,.45],[913,.42],[933,.42],[939,.44]];

const UPE_U_P: Pt[] = [[125,.84],[127,.73],[136,.85],[139,.70],[147,.85],[153,.66],[165,.64],[176,.63],[188,.53],[193,.48],[199,.52],[205,.44],[211,.46],[219,.44],[222,.41],[228,.82],[239,.73],[245,.66],[251,.84],[254,.72],[130,.82],[142,.84],[159,.65],[170,.63],[182,.58],
[486,.87],[492,.79],[497,.73],[503,.70],[514,.86],[526,.68],[537,.66],[549,.59],[560,.55],[572,.70],[572,.81],[578,.46],[589,.41],[600,.72],[618,.66],[626,.57],[507,.76],[520,.72],[532,.70],
[847,.73],[850,.66],[870,.75],[896,.72],[942,.30],[948,.40],[979,.45]];
const UPE_U_S: Pt[] = [[122,.81],[127,.77],[133,.82],[139,.73],[145,.79],[150,.75],[156,.81],[162,.72],[167,.77],[173,.68],[179,.79],[185,.73],[190,.68],[199,.73],[199,.63],[205,.64],[213,.68],[228,.79],[234,.81],[239,.79],[245,.82],[251,.81],[259,.82],[265,.81],[125,.79],[130,.80],[136,.78],[142,.80],[148,.77],[153,.79],[159,.77],[165,.75],[170,.74],[176,.72],[182,.70],
[483,.81],[489,.75],[494,.82],[500,.77],[506,.72],[512,.81],[517,.75],[523,.79],[529,.73],[535,.82],[540,.70],[546,.77],[552,.66],[557,.73],[566,.61],[572,.66],[575,.79],[598,.82],[600,.70],[603,.77],[609,.82],[615,.73],[618,.77],[620,.82],[635,.81],[486,.78],[491,.80],[497,.78],[503,.79],[509,.77],[515,.79],[520,.78],[526,.76],
[847,.68],[850,.61],[853,.72],[856,.66],[859,.75],[862,.70],[864,.79],[867,.77],[870,.81],[939,.41],[979,.81],[852,.69],[858,.71],[861,.74]];
const UPE_U_M: Pt[] = [[188,.49],[193,.44],[196,.50],[199,.56],[202,.41],[205,.37],[205,.34],[208,.43],[211,.39],[213,.41],[213,.50],[216,.55],[219,.60],[222,.43],[228,.65],[231,.64],[239,.63],[256,.66],[268,.63],[207,.40],[210,.42],[204,.45],
[543,.49],[546,.61],[552,.49],[563,.37],[566,.37],[566,.48],[569,.44],[572,.46],[578,.41],[580,.44],[583,.50],[586,.43],[589,.55],[592,.46],[595,.52],[598,.43],[600,.59],[606,.55],[612,.57],[615,.66],[618,.61],[620,.53],[629,.61],
[864,.58],[942,.41],[945,.47]];

type PanelCfg = { title: string; p: Pt[]; s: Pt[]; m: Pt[] };
const PANELS: PanelCfg[] = [
  { title: 'KAN_L', p: KAN_L_P, s: KAN_L_S, m: KAN_L_M },
  { title: 'KAN_M', p: KAN_M_P, s: KAN_M_S, m: KAN_M_M },
  { title: 'KAN_U', p: KAN_U_P, s: KAN_U_S, m: KAN_U_M },
  { title: 'KPC_L', p: KPC_L_P, s: KPC_L_S, m: KPC_L_M },
  { title: 'KPC_U', p: KPC_U_P, s: KPC_U_S, m: KPC_U_M },
  { title: 'SCO_L', p: SCO_L_P, s: SCO_L_S, m: SCO_L_M },
  { title: 'SCO_U', p: SCO_U_P, s: SCO_U_S, m: SCO_U_M },
  { title: 'EGP', p: EGP_P, s: EGP_S, m: EGP_M },
  { title: 'QAS_L', p: QAS_L_P, s: QAS_L_S, m: QAS_L_M },
  { title: 'QAS_U', p: QAS_U_P, s: QAS_U_S, m: QAS_U_M },
  { title: 'TAS_L', p: TAS_L_P, s: TAS_L_S, m: TAS_L_M },
  { title: 'TAS_A', p: TAS_A_P, s: TAS_A_S, m: TAS_A_M },
  { title: 'THU_L', p: THU_L_P, s: THU_L_S, m: THU_L_M },
  { title: 'THU_U', p: THU_U_P, s: THU_U_S, m: THU_U_M },
  { title: 'UPE_L', p: UPE_L_P, s: UPE_L_S, m: UPE_L_M },
  { title: 'UPE_U', p: UPE_U_P, s: UPE_U_S, m: UPE_U_M },
];

// layout (pixels)
const ROW_TOPS = [146, 596, 1047, 1499, 1960, 2411, 2863, 3314];
const PLOT_H = 374;
const COLS = [
  { left: 171, width: 1289, domain: [117, 997] as [number, number] },
  { left: 1590, width: 1288, domain: [120, 996] as [number, number] },
];
const BLUE = '#1f77b4';
const ORANGE = '#ff7f0e';
const R = 11.5;
const FONT = 'DejaVu Sans, Verdana, sans-serif';

const blueDot = (p: any) => <circle cx={p.cx} cy={p.cy} r={R} fill={BLUE} />;
const orangeDot = (p: any) => <circle cx={p.cx} cy={p.cy} r={R} fill={ORANGE} />;
const plusMark = (p: any) => (
  <path d={`M${p.cx - 9.5},${p.cy}h19M${p.cx},${p.cy - 9.5}v19`} stroke="#000" strokeWidth={3.4} fill="none" />
);

const DateTick = (props: any) => {
  const { x, y, payload } = props;
  const i = TICK_DAYS.indexOf(payload.value);
  const tx = x - 12;
  const ty = y + 25;
  return (
    <text x={tx} y={ty} transform={`rotate(-40 ${tx} ${ty})`} textAnchor="end" fontSize={31} fontFamily={FONT} fill="#1a1a1a">
      {TICK_LABELS[i]}
    </text>
  );
};

const toObj = (a: Pt[]) => a.map(([x, y]) => ({ x, y }));

function Panel({ cfg, idx }: { cfg: PanelCfg; idx: number }) {
  const row = Math.floor(idx / 2);
  const col = idx % 2;
  const c = COLS[col];
  const bottom = row === 7;
  const YW = 120, MT = 30, MR = 16;
  const XH = bottom ? 200 : 16;
  const W = YW + c.width + MR;
  const H = MT + PLOT_H + XH;
  const [d0, d1] = c.domain;
  return (
    <div style={{ position: 'absolute', left: c.left - YW, top: ROW_TOPS[row] - MT }}>
      <ScatterChart width={W} height={H} margin={{ top: MT, right: MR, bottom: 0, left: 0 }}>
        <CartesianGrid stroke="#b8b8b8" strokeWidth={2.5} />
        <ReferenceArea x1={d0} x2={d1} y1={0.2} y2={BARE_ICE_ALBEDO} fill="#000" fillOpacity={0.175} stroke="none" ifOverflow="hidden" />
        <XAxis
          type="number" dataKey="x" domain={c.domain} ticks={TICK_DAYS} interval={0} allowDataOverflow
          height={XH} axisLine={false} tickLine={{ stroke: '#000', strokeWidth: 2 }} tickSize={9}
          tick={bottom ? <DateTick /> : false}
        />
        <YAxis
          type="number" dataKey="y" domain={[0.2, 1.0]} ticks={Y_TICKS} interval={0} allowDataOverflow
          width={YW} axisLine={false} tickLine={{ stroke: '#000', strokeWidth: 2 }} tickSize={9} tickMargin={12}
          tick={{ fontSize: 28, fill: '#1a1a1a', fontFamily: FONT }} tickFormatter={(v: number) => v.toFixed(1)}
        />
        <Scatter data={toObj(cfg.p)} shape={blueDot} isAnimationActive={false} />
        <Scatter data={toObj([...cfg.s, ...cfg.m])} shape={orangeDot} isAnimationActive={false} />
        <Scatter data={toObj(cfg.m)} shape={plusMark} isAnimationActive={false} />
        <ReferenceArea x1={d0} x2={d1} y1={0.2} y2={1.0} fill="none" fillOpacity={0} stroke="#111" strokeWidth={2.5} ifOverflow="visible" />
      </ScatterChart>
    </div>
  );
}

export default function App() {
  return (
    <div style={{ position: 'absolute', left: 0, top: 0, width: 2902, height: 3826, background: '#fff', overflow: 'hidden' }}>
      {PANELS.map((cfg, i) => <Panel key={cfg.title} cfg={cfg} idx={i} />)}
      <svg width={2902} height={3826} style={{ position: 'absolute', left: 0, top: 0, pointerEvents: 'none' }}>
        {PANELS.map((cfg, i) => {
          const c = COLS[i % 2];
          const top = ROW_TOPS[Math.floor(i / 2)];
          return (
            <text key={cfg.title} x={c.left + c.width / 2} y={top - 19} textAnchor="middle" fontSize={34} fontFamily={FONT} fill="#1a1a1a">
              {cfg.title}
            </text>
          );
        })}
        <text x={67} y={1929} transform="rotate(-90 67 1929)" textAnchor="middle" fontSize={56} fontFamily={FONT} fill="#1a1a1a">
          Albedo (-)
        </text>
        <g>
          <rect x={883} y={20} width={1260} height={58} rx={8} fill="#fff" stroke="#cfcfcf" strokeWidth={2} />
          <circle cx={927} cy={49} r={10} fill={BLUE} />
          <text x={969} y={63} fontSize={38} fontWeight="bold" fontFamily="Lato, sans-serif" textLength={168} lengthAdjust="spacingAndGlyphs">{LEGEND_LABELS[0]}</text>
          <circle cx={1230} cy={49} r={10} fill={ORANGE} />
          <text x={1281} y={63} fontSize={38} fontWeight="bold" fontFamily="Lato, sans-serif" textLength={176} lengthAdjust="spacingAndGlyphs">{LEGEND_LABELS[1]}</text>
          <path d="M1503,49h20M1513,39v20" stroke="#000" strokeWidth={2} />
          <text x={1543} y={63} fontSize={38} fontWeight="bold" fontFamily="Lato, sans-serif" textLength={227} lengthAdjust="spacingAndGlyphs">{LEGEND_LABELS[2]}</text>
          <rect x={1789} y={36} width={66} height={27} fill="#d3d3d3" />
          <text x={1862} y={63} fontSize={38} fontWeight="bold" fontFamily="Lato, sans-serif" textLength={276} lengthAdjust="spacingAndGlyphs">{LEGEND_LABELS[3]}</text>
        </g>
      </svg>
    </div>
  );
}
